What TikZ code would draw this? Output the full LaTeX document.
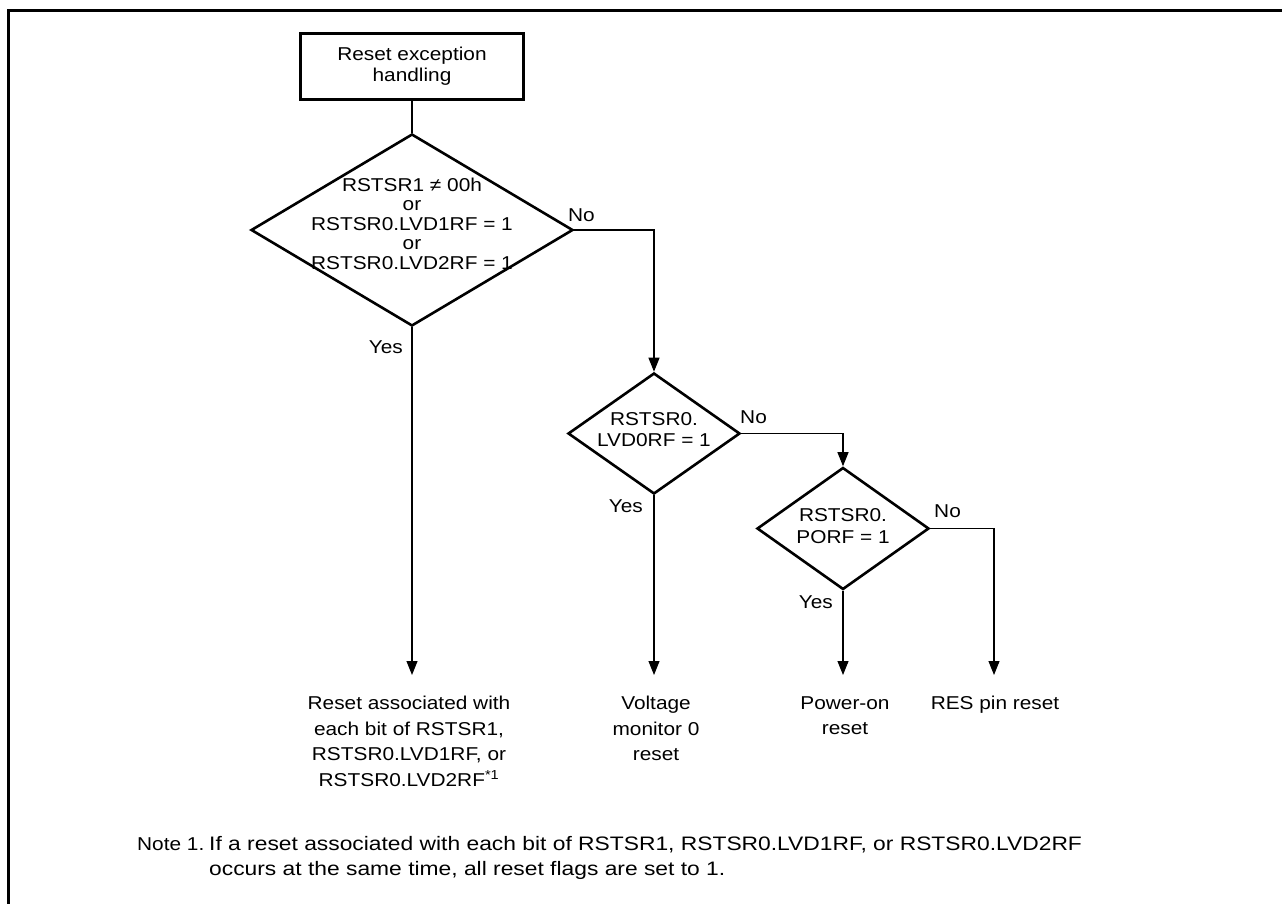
\documentclass[tikz,border=0pt]{standalone}
\usepackage{fontspec}
\setmainfont{Liberation Sans}[FakeStretch=1.12]
\newfontfamily\notefont{Liberation Sans}[FakeStretch=1.17]
\usetikzlibrary{shapes.geometric,arrows.meta}
\begin{document}
\begin{tikzpicture}[x=1pt,y=-1pt,
  every node/.style={inner sep=0pt, font=\fontsize{18.6}{21}\selectfont},
  procbox/.style={draw, line width=2.6pt, minimum width=223pt, minimum height=66pt, align=center},
  decision/.style={draw, diamond, line width=2.6pt, inner sep=0pt},
  dtext/.style={align=center},
  conn/.style={line width=1.1pt},
  arr/.style={conn, -{Triangle[length=14pt,width=11pt]}},
  endlbl/.style={align=center, anchor=north, font=\fontsize{18.6}{25.5}\selectfont},
  yn/.style={font=\fontsize{18.6}{21}\selectfont},
  notetext/.style={anchor=base west, font=\notefont\fontsize{19.5}{25}\selectfont}
]
\useasboundingbox (0,0) rectangle (1282,904);
% frame
\draw[line width=3pt] (8.5,904) -- (8.5,10.5) -- (1282,10.5);

% start box
\node[procbox] (start) at (412,66.5) {Reset exception\\handling};

% decision 1
\node[decision, minimum width=322pt, minimum height=192pt] (d1) at (412,230) {};
\node[dtext, font=\fontsize{18.6}{19.5}\selectfont] (d1t) at (412,223.5)
  {RSTSR1 ≠ 00h\\or\\RSTSR0.LVD1RF = 1\\or\\RSTSR0.LVD2RF = 1};

% decision 2
\node[decision, minimum width=172pt, minimum height=121pt] (d2) at (654,433.5) {};
\node[dtext, font=\fontsize{18.6}{21.5}\selectfont] (d2t) at (654,429.5) {RSTSR0.\\LVD0RF = 1};

% decision 3
\node[decision, minimum width=172pt, minimum height=122pt] (d3) at (843,528.5) {};
\node[dtext, font=\fontsize{18.6}{21.5}\selectfont] (d3t) at (843,526) {RSTSR0.\\PORF = 1};

% end coordinates
\coordinate (t1) at (412,675);
\coordinate (t2) at (654,675);
\coordinate (t3) at (843,675);
\coordinate (t4) at (994,675);

% connectors
\draw[conn] (start.south) -- (d1.north);
\draw[arr] (d1.east) -| (d2.north);
\draw[arr] (d2.east) -| (d3.north);
\draw[arr] (d3.east) -| (t4);
\draw[arr] (d1.south) -- (t1);
\draw[arr] (d2.south) -- (t2);
\draw[arr] (d3.south) -- (t3);

% yes / no labels
\node[yn, anchor=base west] (no1) at (568,222) {No};
\node[yn, anchor=base east] (yes1) at (403,353) {Yes};
\node[yn, anchor=base west] (no2) at (740,423) {No};
\node[yn, anchor=base east] (yes2) at (643,512) {Yes};
\node[yn, anchor=base west] (no3) at (934,517) {No};
\node[yn, anchor=base east] (yes3) at (833,608) {Yes};

% end labels
\node[endlbl] (r1) at (409,696) {Reset associated with\\each bit of RSTSR1,\\RSTSR0.LVD1RF, or\\RSTSR0.LVD2RF\textsuperscript{*1}};
\node[endlbl] (r2) at (656,696) {Voltage\\monitor 0\\reset};
\node[endlbl] (r3) at (845,696) {Power-on\\reset};
\node[endlbl] (r4) at (995,696) {RES pin reset};

% note
\node[anchor=base west] (notelbl) at (137,850) {Note 1.};
\node[notetext] (note1) at (209,850) {If a reset associated with each bit of RSTSR1, RSTSR0.LVD1RF, or RSTSR0.LVD2RF};
\node[notetext] (note2) at (209,875) {occurs at the same time, all reset flags are set to 1.};
\end{tikzpicture}
\end{document}
